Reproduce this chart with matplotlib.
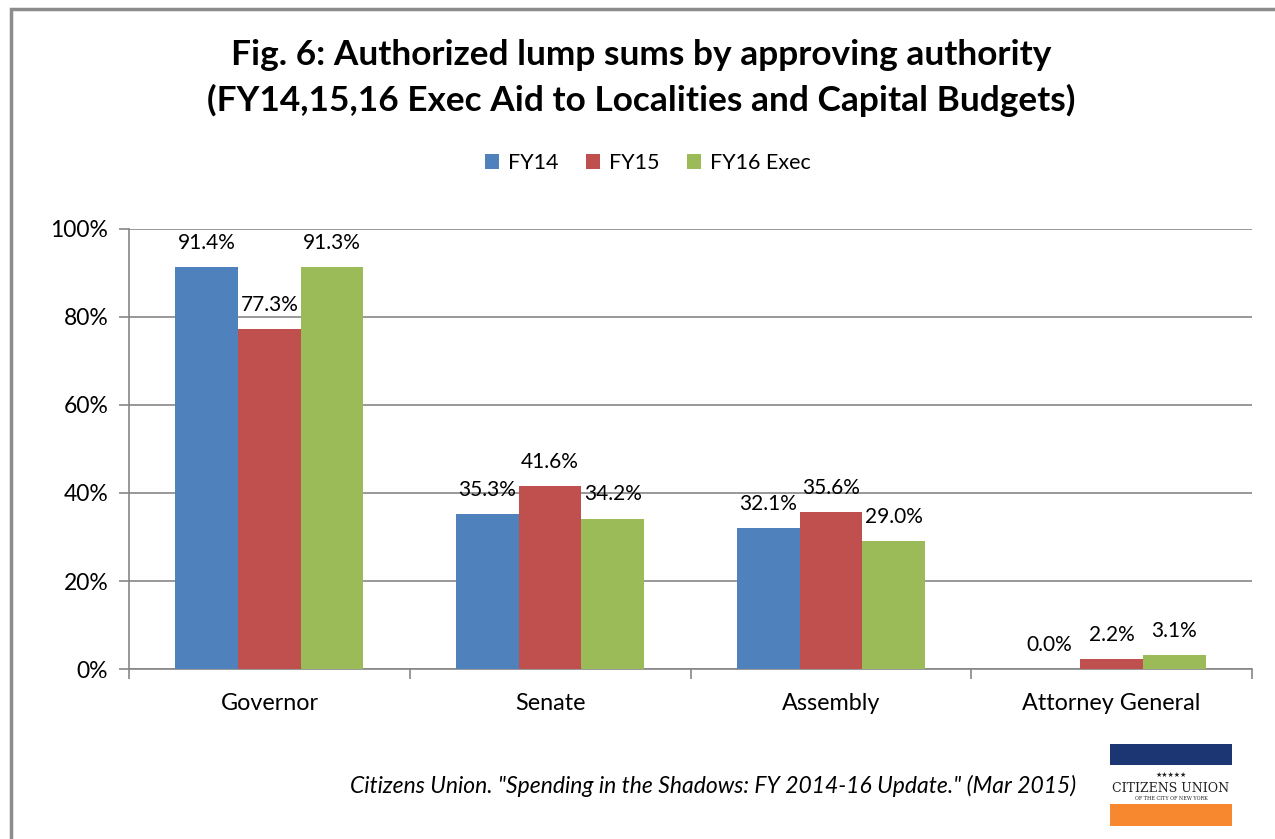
import matplotlib
matplotlib.use("Agg")
import matplotlib.pyplot as plt
from matplotlib.patches import Rectangle
import numpy as np

categories = ["Governor", "Senate", "Assembly", "Attorney General"]
series_names = ["FY14", "FY15", "FY16 Exec"]
fy14 = [91.4, 35.3, 32.1, 0.0]
fy15 = [77.3, 41.6, 35.6, 2.2]
fy16 = [91.3, 34.2, 29.0, 3.1]
colors = ["#4F81BD", "#C0504D", "#9BBB59"]
yticks = [0, 20, 40, 60, 80, 100]
ytick_labels = ["0%", "20%", "40%", "60%", "80%", "100%"]

plt.rcParams['font.family'] = ['Lato', 'DejaVu Sans']

W, H = 1275, 839
fig = plt.figure(figsize=(W / 100, H / 100), dpi=100)

# outer border
fig.patches.append(Rectangle((11 / W, 1 - 9 / H - 2), 2, 2, transform=fig.transFigure,
                             fill=False, edgecolor="#8C8C8C", linewidth=2.5))

ax = fig.add_axes([129 / W, (H - 669) / H, (1252 - 129) / W, (669 - 229) / H])

x = np.arange(len(categories))
bw = 0.223
for i, (vals, name) in enumerate(zip([fy14, fy15, fy16], series_names)):
    pos = x + (i - 1) * bw
    ax.bar(pos, vals, width=bw, color=colors[i], label=name, zorder=3)
    for p, v in zip(pos, vals):
        ax.text(p, v + 3.2, f"{v:.1f}%", ha="center", va="bottom", fontsize=15, color="black", zorder=4)

ax.set_xlim(-0.5, len(categories) - 0.5)
ax.set_ylim(0, 100)
ax.set_yticks(yticks)
ax.set_yticklabels(ytick_labels, fontsize=16.5)
ax.yaxis.grid(True, color="#868686", linewidth=1.2, zorder=0)
ax.set_axisbelow(True)
ax.set_xticks(x)
ax.set_xticklabels(categories, fontsize=16.8)
ax.tick_params(axis="x", length=0, pad=17)
ax.set_xticks(np.arange(-0.5, len(categories), 1), minor=True)
ax.tick_params(axis="x", which="minor", length=7, color="#868686", width=1.2)
ax.tick_params(axis="y", length=7, color="#868686", width=1.2, pad=8)
for s in ["top", "right"]:
    ax.spines[s].set_visible(False)
for s in ["left", "bottom"]:
    ax.spines[s].set_color("#868686")
    ax.spines[s].set_linewidth(1.2)

fig.text(641 / W, 1 - 55 / H, "Fig. 6: Authorized lump sums by approving authority",
         ha="center", va="center", fontsize=25.4, fontweight="bold")
fig.text(641 / W, 1 - 100 / H, "(FY14,15,16 Exec Aid to Localities and Capital Budgets)",
         ha="center", va="center", fontsize=25.4, fontweight="bold")

handles, labels = ax.get_legend_handles_labels()
fig.legend(handles, labels, loc="center", bbox_to_anchor=(648 / W, 1 - 163 / H), ncol=3,
           frameon=False, fontsize=15.5, handlelength=0.65, handleheight=0.65,
           handletextpad=0.4, columnspacing=1.3)

fig.text(1076 / W, 1 - 786 / H,
         'Citizens Union. "Spending in the Shadows: FY 2014-16 Update." (Mar 2015)',
         ha="right", va="center", fontsize=16.5, style="italic")

# logo
lx0, lx1 = 1110, 1232
fig.patches.append(Rectangle((lx0 / W, 1 - 765 / H), (lx1 - lx0) / W, 21 / H,
                             transform=fig.transFigure, facecolor="#1B3672", edgecolor="none"))
fig.patches.append(Rectangle((lx0 / W, 1 - 826 / H), (lx1 - lx0) / W, 22 / H,
                             transform=fig.transFigure, facecolor="#F7882F", edgecolor="none"))
fig.text(1171 / W, 1 - 775 / H, "★★★★★", ha="center", va="center", fontsize=5,
         family=["DejaVu Sans"], color="#222222")
fig.text(1171 / W, 1 - 788 / H, "CITIZENS UNION", ha="center", va="center", fontsize=9,
         family=["DejaVu Serif"], color="#222222")
fig.text(1171 / W, 1 - 798 / H, "OF THE CITY OF NEW YORK", ha="center", va="center", fontsize=3.5,
         family=["DejaVu Serif"], color="#222222")

fig.savefig("out.png", dpi=100)
